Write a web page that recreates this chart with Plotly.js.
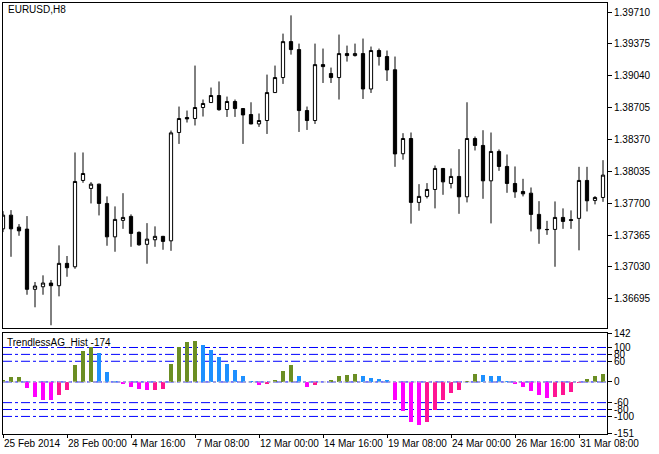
<!DOCTYPE html>
<html>
<head>
<meta charset="utf-8">
<script src="https://cdn.plot.ly/plotly-3.0.1.min.js"></script>
<style>
  html, body { margin: 0; padding: 0; background: #ffffff; }
  #chart { width: 659px; height: 454px; }
</style>
</head>
<body>
<div id="chart"></div>
<script>
// ---- Data (EURUSD, H8) ----
const openPrices = [
  1.37430, 1.37574, 1.37448, 1.37427, 1.36794, 1.36821, 1.36860, 1.36832, 1.37067, 1.37031,
  1.37939, 1.37855, 1.37900, 1.37697, 1.37346, 1.37519, 1.37561, 1.37393, 1.37267, 1.37315,
  1.37351, 1.37304, 1.38443, 1.38601, 1.38590, 1.38706, 1.38758, 1.38832, 1.38685, 1.38769,
  1.38695, 1.38632, 1.38533, 1.38569, 1.38863, 1.39021, 1.39399, 1.39315, 1.38674, 1.38569,
  1.39157, 1.39063, 1.39021, 1.39273, 1.39252, 1.39273, 1.38901, 1.39305, 1.39242, 1.39103,
  1.38220, 1.38380, 1.37708, 1.37771, 1.37844, 1.38065, 1.37907, 1.37981, 1.37767, 1.38380,
  1.38307, 1.37935, 1.38244, 1.38086, 1.37907, 1.37823, 1.37805, 1.37582, 1.37424, 1.37424,
  1.37550, 1.37527, 1.37540, 1.37939, 1.37729, 1.37760
];
const highPrices = [
  1.37616, 1.37627, 1.37480, 1.37564, 1.36871, 1.36941, 1.36892, 1.37256, 1.37144, 1.38233,
  1.38233, 1.37921, 1.37905, 1.37771, 1.37666, 1.37805, 1.37582, 1.37403, 1.37490, 1.37456,
  1.37356, 1.38464, 1.38716, 1.38674, 1.39147, 1.38790, 1.38916, 1.38980, 1.38821, 1.38790,
  1.38700, 1.38761, 1.38643, 1.39052, 1.39147, 1.39483, 1.39675, 1.39378, 1.38716, 1.39378,
  1.39326, 1.39126, 1.39473, 1.39357, 1.39378, 1.39431, 1.39347, 1.39326, 1.39305, 1.39242,
  1.38436, 1.38443, 1.37900, 1.37911, 1.38096, 1.38070, 1.38065, 1.38268, 1.38761, 1.38401,
  1.38467, 1.38443, 1.38265, 1.38212, 1.38086, 1.37956, 1.37865, 1.37721, 1.37514, 1.37718,
  1.37645, 1.37624, 1.38082, 1.38082, 1.37774, 1.38152
];
const lowPrices = [
  1.37396, 1.37136, 1.37357, 1.36737, 1.36605, 1.36737, 1.36416, 1.36720, 1.36926, 1.37010,
  1.37914, 1.37697, 1.37571, 1.37252, 1.37189, 1.37430, 1.37241, 1.37252, 1.37063, 1.37241,
  1.37210, 1.37199, 1.38323, 1.38548, 1.38517, 1.38611, 1.38755, 1.38672, 1.38607, 1.38607,
  1.38323, 1.38530, 1.38502, 1.38428, 1.38860, 1.38954, 1.39262, 1.38449, 1.38470, 1.38533,
  1.38964, 1.38964, 1.38790, 1.39189, 1.39242, 1.38796, 1.38859, 1.39147, 1.38985, 1.38082,
  1.38157, 1.37485, 1.37620, 1.37750, 1.37645, 1.37788, 1.37855, 1.37588, 1.37708, 1.38254,
  1.37746, 1.37487, 1.38040, 1.37809, 1.37756, 1.37771, 1.37403, 1.37273, 1.37367, 1.37031,
  1.37430, 1.37430, 1.37204, 1.37613, 1.37687, 1.37714
];
const closePrices = [
  1.37574, 1.37430, 1.37409, 1.36794, 1.36829, 1.36860, 1.36832, 1.37067, 1.37021, 1.37928,
  1.38012, 1.37900, 1.37697, 1.37346, 1.37529, 1.37550, 1.37382, 1.37262, 1.37322, 1.37351,
  1.37298, 1.38439, 1.38590, 1.38586, 1.38706, 1.38748, 1.38832, 1.38683, 1.38769, 1.38695,
  1.38628, 1.38533, 1.38569, 1.38863, 1.39021, 1.39399, 1.39315, 1.38674, 1.38569, 1.39157,
  1.39136, 1.39021, 1.39273, 1.39252, 1.39273, 1.38901, 1.39305, 1.39242, 1.39101, 1.38218,
  1.38380, 1.37708, 1.37771, 1.37844, 1.38065, 1.37924, 1.37981, 1.37767, 1.38380, 1.38307,
  1.37935, 1.38244, 1.38086, 1.37907, 1.37819, 1.37798, 1.37582, 1.37430, 1.37422, 1.37550,
  1.37508, 1.37519, 1.37939, 1.37725, 1.37760, 1.37995
];
// TrendlessAG_Hist values
const histValues = [
  6, 13, 13, -18, -43, -51, -51.5, -39, -24, 50,
  91, 100, 83, 30, 4, -7, -16, -21, -24.5, -24,
  -21, 53, 100, 117, 118, 106, 94, 71, 53, 36,
  18, 4, -8, -5, 7, 33, 48, 18, -14, -8,
  0, 7, 16, 21, 24, 16, 10.5, 10, 7, -53,
  -83, -115, -126, -117, -80, -53, -33, -24, 4, 24,
  21, 18, 16, 4, -7, -16, -27, -39, -48, -45,
  -39, -30, -4, 10, 16, 24
];
// time-axis labels (bar index -> label)
const timeTickIndex = [0, 8, 16, 24, 32, 40, 48, 56, 64, 72];
const timeTickLabels = ["25 Feb 2014", "28 Feb 00:00", "4 Mar 16:00", "7 Mar 08:00", "12 Mar 00:00",
                        "14 Mar 16:00", "19 Mar 08:00", "24 Mar 00:00", "26 Mar 16:00", "31 Mar 08:00"];
const priceTicks = [1.39710, 1.39375, 1.39040, 1.38705, 1.38370, 1.38035, 1.37700, 1.37365, 1.37030, 1.36695];
const histTicks = [142, 100, 80, 60, 0, -60, -80, -100, -151];
const levelValues = [100, 80, 60, -60, -80, -100];
const symbolTitle = "EURUSD,H8";
const indicatorTitle = "TrendlessAG_Hist -174";

// ---- Build ----
const barIdx = openPrices.map((_, i) => i);
const colUpRise = "#6B8E23", colUpFall = "#1E90FF", colDnFall = "#FF00FF", colDnRise = "#FF1493";
const histColors = histValues.map((v, i) => {
  const p = i > 0 ? histValues[i - 1] : -Infinity;
  if (v >= 0) return v >= p ? colUpRise : colUpFall;
  return v <= p ? colDnFall : colDnRise;
});

const font = "Liberation Sans, Arial, sans-serif";
const xRange = [0, 75.5];

const candle = {
  type: "candlestick", x: barIdx,
  open: openPrices, high: highPrices, low: lowPrices, close: closePrices,
  xaxis: "x", yaxis: "y",
  increasing: { line: { color: "#000000", width: 1 }, fillcolor: "#ffffff" },
  decreasing: { line: { color: "#000000", width: 1 }, fillcolor: "#000000" },
  whiskerwidth: 0, showlegend: false, hoverinfo: "skip"
};
const hist = {
  type: "bar", x: barIdx, y: histValues, xaxis: "x2", yaxis: "y2",
  marker: { color: histColors, line: { width: 0 } }, width: 0.5,
  showlegend: false, hoverinfo: "skip"
};

const shapes = [];
levelValues.forEach(v => shapes.push({
  type: "line", xref: "paper", x0: 0, x1: 1, yref: "y2", y0: v, y1: v,
  line: { color: "#0000FF", width: 1, dash: "9px,3px,3px,3px" }, layer: "below"
}));
shapes.push({ type: "line", xref: "paper", x0: 0, x1: 1, yref: "y2", y0: 0, y1: 0,
  line: { color: "#0000FF", width: 1, dash: "9px,3px,3px,3px" }, layer: "below" });
shapes.push({ type: "line", xref: "paper", x0: 0, x1: 1, yref: "y2", y0: 0, y1: 0,
  line: { color: "#C0C0C0", width: 1, dash: "3px,2px" }, layer: "above" });

const layout = {
  width: 659, height: 454,
  margin: { l: 3, r: 52, t: 3, b: 20, pad: 0 },
  paper_bgcolor: "#ffffff", plot_bgcolor: "#ffffff",
  font: { family: font, size: 10, color: "#000000" },
  boxgap: 0.42,
  bargap: 0,
  showlegend: false,
  xaxis: {
    domain: [0, 1], range: xRange, anchor: "y",
    showticklabels: false, ticks: "", showgrid: false, zeroline: false,
    showline: true, mirror: true, linecolor: "#000000", linewidth: 1,
    rangeslider: { visible: false }, fixedrange: true
  },
  yaxis: {
    domain: [0.2459, 1], range: [1.36387, 1.39805], side: "right", anchor: "x",
    tickvals: priceTicks, tickformat: ".5f", ticks: "outside", ticklen: 4, tickcolor: "#000000",
    tickfont: { family: font, size: 10, color: "#000000" },
    showgrid: false, zeroline: false,
    showline: true, mirror: true, linecolor: "#000000", linewidth: 1, fixedrange: true
  },
  xaxis2: {
    domain: [0, 1], range: xRange, anchor: "y2",
    tickvals: timeTickIndex, ticktext: timeTickLabels, ticklabelposition: "outside right",
    tickangle: 0, automargin: false,
    ticks: "outside", ticklen: 3, tickcolor: "#000000",
    tickfont: { family: font, size: 10, color: "#000000" },
    showgrid: false, zeroline: false,
    showline: true, mirror: true, linecolor: "#000000", linewidth: 1, fixedrange: true
  },
  yaxis2: {
    domain: [0, 0.2343], range: [-151, 142], side: "right", anchor: "x2",
    tickvals: histTicks, ticktext: histTicks.map(String), ticks: "outside", ticklen: 4, tickcolor: "#000000",
    tickfont: { family: font, size: 10, color: "#000000" },
    showgrid: false, zeroline: false,
    showline: true, mirror: true, linecolor: "#000000", linewidth: 1, fixedrange: true
  },
  shapes: shapes,
  annotations: [
    { text: symbolTitle, xref: "paper", yref: "paper", x: 0.005, y: 0.9838,
      xanchor: "left", yanchor: "middle", showarrow: false,
      font: { family: font, size: 10, color: "#000000" } },
    { text: indicatorTitle, xref: "paper", yref: "paper", x: 0.004, y: 0.2123,
      xanchor: "left", yanchor: "middle", showarrow: false,
      font: { family: font, size: 10, color: "#000000" } }
  ]
};

Plotly.newPlot("chart", [candle, hist], layout, { staticPlot: true, displayModeBar: false });
</script>
</body>
</html>
